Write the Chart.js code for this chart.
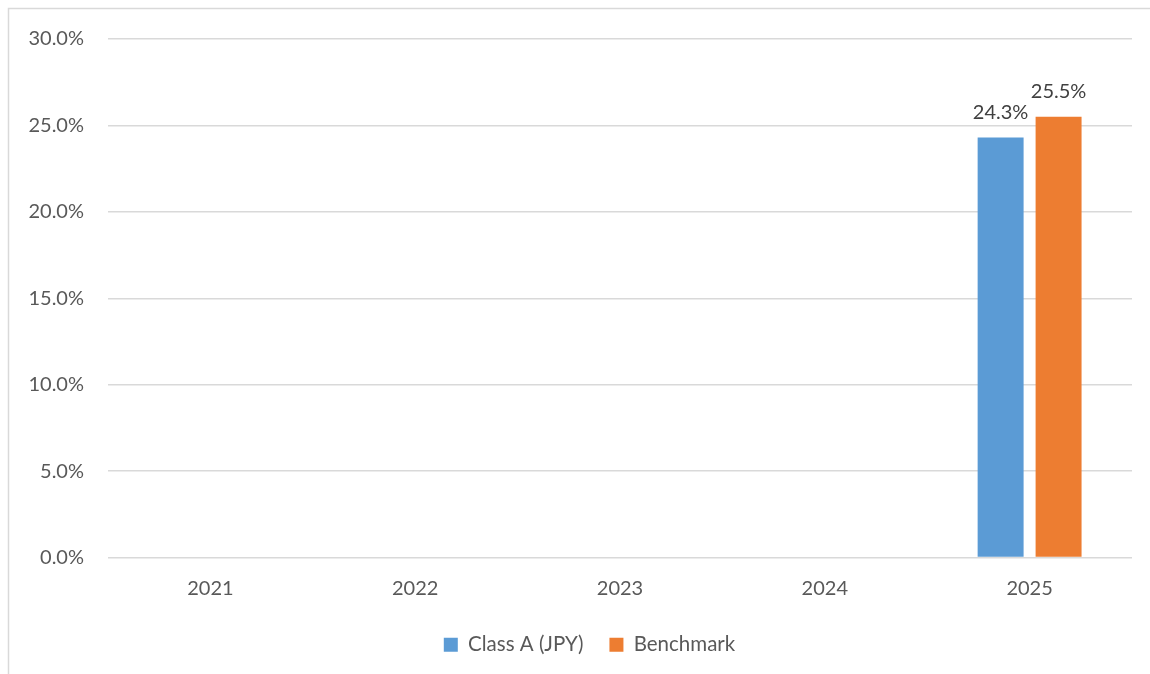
<!DOCTYPE html>
<html>
<head>
<meta charset="utf-8">
<script src="https://cdn.jsdelivr.net/npm/chart.js@4/dist/chart.umd.min.js"></script>
<style>
html,body{margin:0;padding:0;background:#fff;}
#wrap{position:absolute;left:0;top:0;width:1150px;height:674px;}
</style>
</head>
<body>
<div id="wrap"><canvas id="c" width="1150" height="674"></canvas></div>
<script>
const categories = ['2021','2022','2023','2024','2025'];
const classA = [null, null, null, null, 24.3];
const benchmark = [null, null, null, null, 25.5];
const seriesNames = ['Class A (JPY)', 'Benchmark'];
const yTicks = [0, 5, 10, 15, 20, 25, 30];

const FONT = 'Lato, "Open Sans", sans-serif';
const TXT = '#595959';

const frame = {
  id: 'frame',
  beforeDraw(chart) {
    const ctx = chart.ctx;
    ctx.save();
    ctx.fillStyle = '#fff';
    ctx.fillRect(0, 0, chart.width, chart.height);
    ctx.strokeStyle = '#d9d9d9';
    ctx.lineWidth = 1.5;
    ctx.beginPath();
    ctx.moveTo(8.5, chart.height);
    ctx.lineTo(8.5, 8.5);
    ctx.lineTo(chart.width, 8.5);
    ctx.stroke();
    ctx.restore();
  }
};

const legendShift = {
  id: 'legendShift',
  afterLayout(chart) {
    if (chart.legend) { chart.legend.left += 39; }
  }
};

const valueLabels = {
  id: 'valueLabels',
  afterDatasetsDraw(chart) {
    const ctx = chart.ctx;
    ctx.save();
    ctx.font = '20px ' + FONT;
    ctx.fillStyle = '#404040';
    ctx.textAlign = 'center';
    ctx.textBaseline = 'bottom';
    chart.data.datasets.forEach((ds, i) => {
      const meta = chart.getDatasetMeta(i);
      meta.data.forEach((el, j) => {
        const v = ds.data[j];
        if (v === null || v === undefined) return;
        ctx.fillText(v.toFixed(1) + '%', el.x, el.y - 15);
      });
    });
    ctx.restore();
  }
};

new Chart(document.getElementById('c'), {
  type: 'bar',
  data: {
    labels: categories,
    datasets: [
      { label: seriesNames[0], data: classA, backgroundColor: '#5b9bd5', categoryPercentage: 0.566, barPercentage: 0.793 },
      { label: seriesNames[1], data: benchmark, backgroundColor: '#ed7d31', categoryPercentage: 0.566, barPercentage: 0.793 }
    ]
  },
  options: {
    responsive: false,
    animation: false,
    devicePixelRatio: 1,
    layout: { padding: { left: 8, right: 18, top: 39, bottom: 9 } },
    plugins: {
      legend: {
        position: 'bottom',
        labels: {
          boxWidth: 14, boxHeight: 14, padding: 26,
          color: TXT, font: { family: FONT, size: 20.5 }
        }
      },
      tooltip: { enabled: false }
    },
    scales: {
      x: {
        grid: { display: false },
        border: { display: false },
        afterFit: (s) => { s.height -= 3; },
        ticks: { color: TXT, font: { family: FONT, size: 20 }, padding: 11 }
      },
      y: {
        min: 0, max: 30,
        afterBuildTicks: (s) => { s.ticks = yTicks.map(v => ({ value: v })); },
        afterFit: (s) => { s.width = 100; },
        grid: { color: '#d9d9d9', lineWidth: 1.5, drawTicks: false },
        border: { display: false },
        ticks: {
          color: TXT, font: { family: FONT, size: 20 }, padding: 24,
          callback: (v) => Number(v).toFixed(1) + '%'
        }
      }
    }
  },
  plugins: [frame, legendShift, valueLabels]
});
</script>
</body>
</html>
